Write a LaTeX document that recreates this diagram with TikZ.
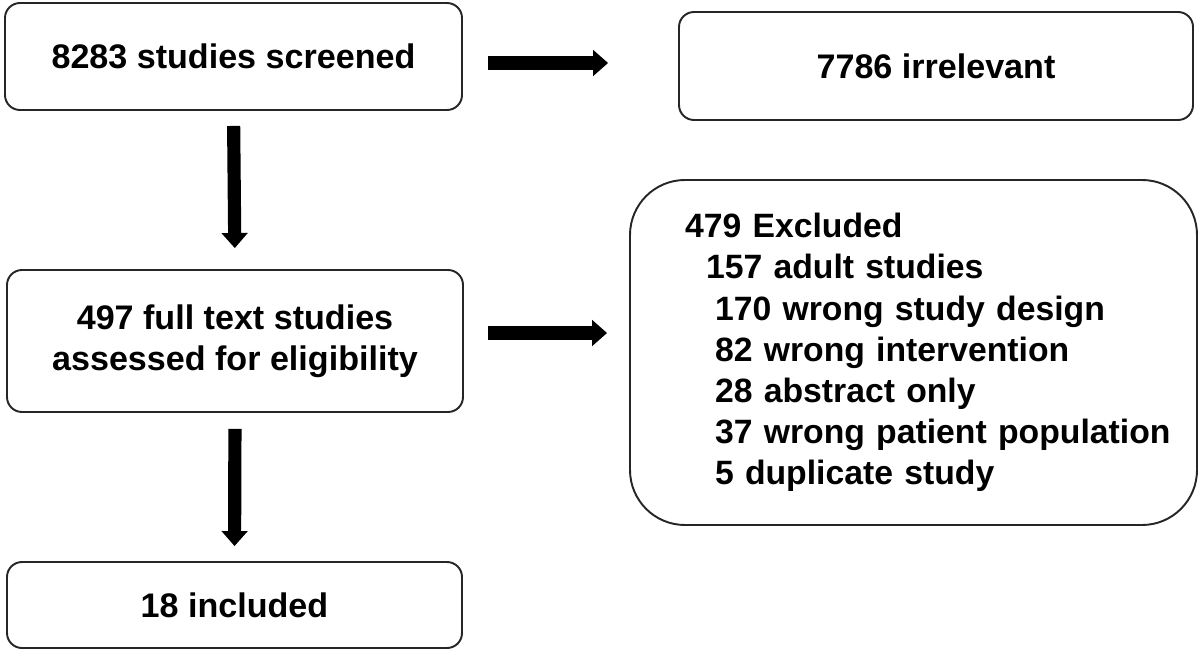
\documentclass[tikz,border=0pt]{standalone}
\usepackage{fontspec}
\setmainfont{Liberation Sans}
\usepackage{tikz}
\usetikzlibrary{arrows.meta,calc}
\tikzstyle{stage}=[draw=black!85,line width=1.1pt,rounded corners=0.3cm,inner sep=0pt,font=\fontsize{19.4}{23.3}\selectfont\bfseries,align=center]
\tikzstyle{bigarrow}=[draw=black,line width=7.5pt,-{Triangle[width=0.52cm,length=0.3cm,line width=1pt]}]

\begin{document}
\begin{tikzpicture}
   \useasboundingbox (0,0) rectangle (24,13.04);

    % flow boxes
    \node[stage,minimum width=9.14cm,minimum height=2.14cm] (screened) at (4.67,11.91) {8283 studies screened};
    \node[stage,minimum width=10.28cm,minimum height=2.16cm] (irrelevant) at (18.72,11.72) {7786 irrelevant};
    \node[stage,minimum width=9.12cm,minimum height=2.84cm] (assessed) at (4.7,6.22) {497 full text studies\\assessed for eligibility};
    \node[stage,minimum width=9.1cm,minimum height=1.72cm] (included) at (4.69,0.94) {18 included};

    \node[stage,font=\fontsize{19.2}{23.4}\selectfont\bfseries,rounded corners=1.1cm,align=left,text width=10.74cm,inner xsep=0.3cm,minimum height=6.9cm] (excluded) at (18.27,5.99)
       {\hspace*{0.8cm}479 Excluded\\
        \hspace*{1.22cm}157 adult studies\\
        \hspace*{1.4cm}170 wrong study design\\
        \hspace*{1.4cm}82 wrong intervention\\
        \hspace*{1.4cm}28 abstract only\\
        \hspace*{1.4cm}37 wrong patient population\\
        \hspace*{1.4cm}5 duplicate study};

    % arrows
    \draw[bigarrow,shorten <=0.5cm,shorten >=1.4cm] ([yshift=-0.13cm]screened.east) -- ([yshift=-0.13cm]screened.east -| irrelevant.west);
    \draw[bigarrow,shorten <=0.48cm,shorten >=0.44cm] ([yshift=0.16cm]assessed.east) -- ([yshift=0.16cm]assessed.east -| excluded.west);
    \draw[bigarrow,shorten <=0.3cm,shorten >=0.42cm] (screened.south) -- (assessed.north);
    \draw[bigarrow,shorten <=0.32cm,shorten >=0.3cm] (assessed.south) -- (included.north);
\end{tikzpicture}
\end{document}
